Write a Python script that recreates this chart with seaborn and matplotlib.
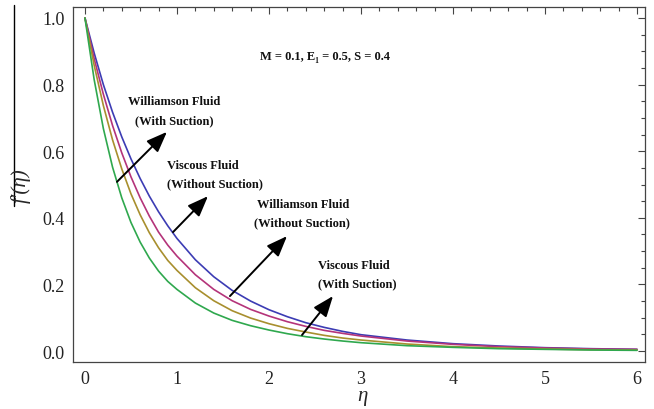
import numpy as np
import pandas as pd
import matplotlib
matplotlib.use("Agg")
import matplotlib.pyplot as plt
from matplotlib.lines import Line2D
from matplotlib.ticker import MultipleLocator, FormatStrFormatter
import seaborn as sns

# similarity variable
eta = [0.0, 0.1, 0.2, 0.3, 0.4, 0.5, 0.6, 0.7, 0.8, 0.9, 1.0,
       1.2, 1.4, 1.6, 1.8, 2.0, 2.2, 2.4, 2.6, 2.8, 3.0,
       3.5, 4.0, 4.5, 5.0, 5.5, 6.0]

# velocity profiles f'(eta)
williamson_suction = [1.0, 0.895, 0.800, 0.717, 0.643, 0.577, 0.518, 0.465, 0.418, 0.376, 0.338,
                      0.274, 0.223, 0.182, 0.150, 0.124, 0.103, 0.085, 0.071, 0.059, 0.049,
                      0.033, 0.022, 0.015, 0.010, 0.007, 0.005]
viscous_no_suction = [1.0, 0.878, 0.771, 0.677, 0.595, 0.523, 0.460, 0.405, 0.357, 0.318, 0.285,
                      0.229, 0.185, 0.151, 0.125, 0.105, 0.088, 0.074, 0.062, 0.053, 0.045,
                      0.030, 0.020, 0.013, 0.009, 0.006, 0.005]
williamson_no_suction = [1.0, 0.858, 0.737, 0.634, 0.547, 0.472, 0.409, 0.355, 0.310, 0.272, 0.242,
                         0.190, 0.151, 0.121, 0.099, 0.082, 0.068, 0.057, 0.047, 0.039, 0.033,
                         0.021, 0.013, 0.009, 0.006, 0.004, 0.003]
viscous_suction = [1.0, 0.815, 0.668, 0.552, 0.460, 0.386, 0.327, 0.279, 0.240, 0.209, 0.185,
                   0.144, 0.114, 0.092, 0.076, 0.063, 0.052, 0.043, 0.036, 0.030, 0.025,
                   0.016, 0.011, 0.007, 0.005, 0.003, 0.002]

series_names = ["Williamson (suction)", "Viscous (no suction)",
                "Williamson (no suction)", "Viscous (suction)"]
series_values = [williamson_suction, viscous_no_suction,
                 williamson_no_suction, viscous_suction]
colors = ["#3c3cb4", "#b4347a", "#a88f2e", "#2fa84e"]

frames = [pd.DataFrame({"eta": eta, "f": vals, "case": name})
          for name, vals in zip(series_names, series_values)]
df = pd.concat(frames, ignore_index=True)

sns.set_style("white")
serif = ["Liberation Serif", "DejaVu Serif"]
plt.rcParams["font.family"] = serif

fig = plt.figure(figsize=(6.54, 4.10), dpi=100)
ax = fig.add_axes([73 / 654, 47 / 410, 572 / 654, 355 / 410])

sns.lineplot(data=df, x="eta", y="f", hue="case", hue_order=series_names,
             palette=colors, linewidth=1.2, legend=False, ax=ax, sort=False)

ax.set_xlim(-0.13, 6.087)
ax.set_ylim(-0.033, 1.033)
ax.xaxis.set_major_locator(MultipleLocator(1))
ax.xaxis.set_minor_locator(MultipleLocator(0.2))
ax.yaxis.set_major_locator(MultipleLocator(0.2))
ax.yaxis.set_minor_locator(MultipleLocator(0.05))
ax.yaxis.set_major_formatter(FormatStrFormatter("%.1f"))
ax.tick_params(which="both", direction="in", top=True, right=True,
               color="#444444", width=0.8)
ax.tick_params(which="major", length=5, labelsize=13, labelcolor="#222222", pad=6)
ax.tick_params(which="minor", length=3)
for s in ax.spines.values():
    s.set_color("#444444")
    s.set_linewidth(0.9)
ax.set_xlabel("")
ax.set_ylabel("")

fig.text(362 / 654, 1 - 397 / 410, "η", fontsize=15, style="italic",
         ha="center", va="center", family=serif)
fig.text(21 / 654, 1 - 186 / 410, "f′(η)", fontsize=15, style="italic",
         rotation=90, ha="center", va="center", family=serif)
fig.add_artist(Line2D([14 / 654, 14 / 654], [1 - 6 / 410, 1 - 207 / 410],
                      color="black", linewidth=1.0))

tkw = dict(fontsize=9, fontweight="bold", ha="left", va="center",
           color="#111111", family=serif)
ax.text(1.902, 0.886, "M = 0.1, E₁ = 0.5, S = 0.4", **tkw)
ax.text(0.467, 0.751, "Williamson Fluid", **tkw)
ax.text(0.543, 0.694, "(With Suction)", **tkw)
ax.text(0.891, 0.559, "Viscous Fluid", **tkw)
ax.text(0.891, 0.505, "(Without Suction)", **tkw)
ax.text(1.870, 0.441, "Williamson Fluid", **tkw)
ax.text(1.837, 0.387, "(Without Suction)", **tkw)
ax.text(2.533, 0.258, "Viscous Fluid", **tkw)
ax.text(2.533, 0.204, "(With Suction)", **tkw)

arrows = [((0.348, 0.508), (0.891, 0.658)),
          ((0.957, 0.357), (1.337, 0.465)),
          ((1.576, 0.165), (2.196, 0.345)),
          ((2.359, 0.048), (2.696, 0.165))]
for start, tip in arrows:
    ax.annotate("", xy=tip, xytext=start,
                arrowprops=dict(arrowstyle="-|>,head_length=0.9,head_width=0.35",
                                color="black", lw=1.4, mutation_scale=14,
                                shrinkA=0, shrinkB=0))

fig.savefig("out.png", dpi=100)
